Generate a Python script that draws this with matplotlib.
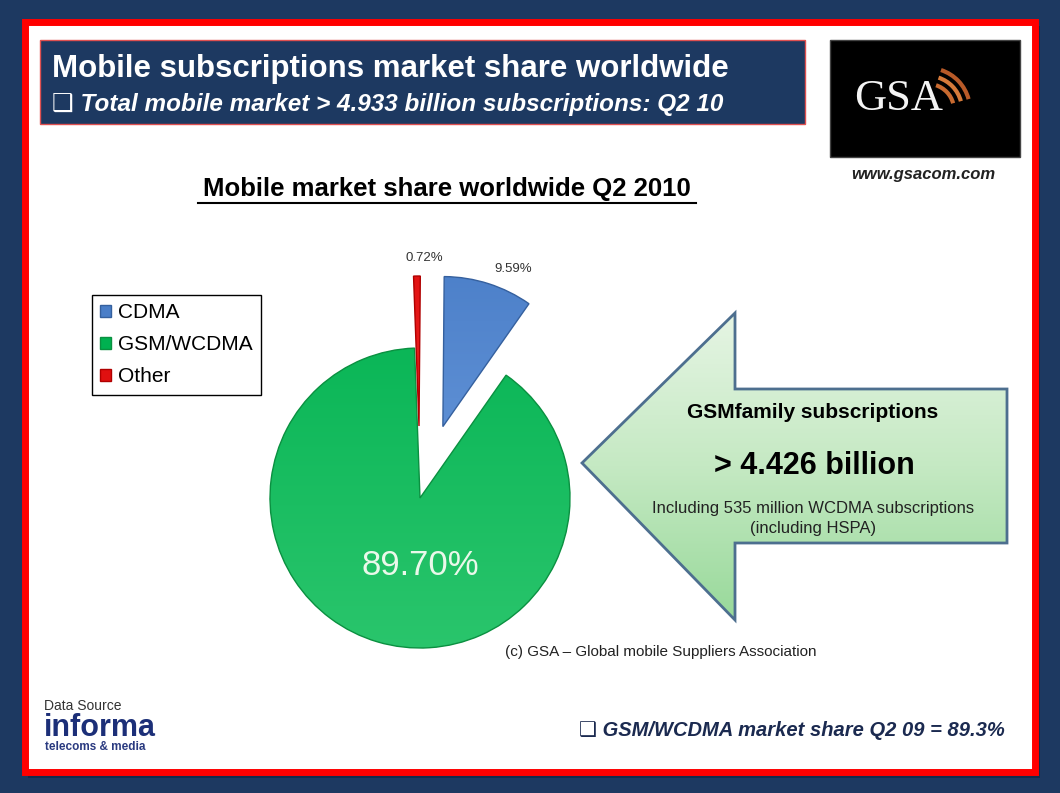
import numpy as np
import matplotlib
matplotlib.use("Agg")
import matplotlib.pyplot as plt
from matplotlib.patches import Rectangle, Polygon, Arc

plt.rcParams["font.family"] = ["Liberation Sans", "DejaVu Sans"]

# market share Q2 2010, percent
technologies = ["CDMA", "GSM/WCDMA", "Other"]
shares = [9.59, 89.70, 0.72]
share_labels = ["9.59%", "89.70%", "0.72%"]
explode = [0.5, 0.0, 0.48]

total_subs = "4.933"
gsm_family_subs = "4.426"
wcdma_subs = "535"
gsm_share_q2_09 = "89.3%"

NAVY = "#1d3961"
W, H = 1060, 793

fig = plt.figure(figsize=(W / 100, H / 100), dpi=100)
fig.patch.set_facecolor(NAVY)

bg = fig.add_axes([0, 0, 1, 1])
bg.set_xlim(0, W)
bg.set_ylim(H, 0)
bg.axis("off")

# slide frame: red border with white inside
bg.add_patch(Rectangle((28, 26), 1012, 752, facecolor="#0d1f38", edgecolor="none", alpha=0.5))
bg.add_patch(Rectangle((25, 22), 1010, 750, facecolor="white", edgecolor="#ff0000", lw=5))

# header box
bg.add_patch(Rectangle((40, 40), 765, 84, facecolor=NAVY, edgecolor="#e05050", lw=1))
bg.text(52, 69, "Mobile subscriptions market share worldwide", color="white",
        fontsize=22.5, fontweight="bold", va="center", ha="left")
bg.text(52, 104, "\u2751 Total mobile market > %s billion subscriptions: Q2 10" % total_subs,
        color="white", fontsize=17.5, fontweight="bold", fontstyle="italic",
        va="center", ha="left")

# GSA logo
bg.add_patch(Rectangle((830, 40), 190, 117, facecolor="black", edgecolor="#444444", lw=1))
bg.text(899, 99, "GSA", color="#f4f4f4", fontsize=32, family="Liberation Serif",
        ha="center", va="center")
for r, c in zip([26, 34, 42], ["#c86a30", "#d67a3a", "#b85a28"]):
    bg.add_patch(Arc((928, 110), 2 * r, 2 * r, theta1=288, theta2=345, color=c, lw=3))
bg.text(923, 174, "www.gsacom.com", fontsize=12, fontweight="bold", fontstyle="italic",
        color="#222222", ha="center", va="center")

# chart title, underlined
bg.text(447, 189, "Mobile market share worldwide Q2 2010", fontsize=18.5,
        fontweight="bold", color="black", ha="center", va="center")
bg.plot([198, 696], [203, 203], color="black", lw=1.5)

# arrow with vertical green gradient
arrow_pts = [(582, 463), (735, 313), (735, 389), (1007, 389), (1007, 543),
             (735, 543), (735, 620)]
arrow = Polygon(arrow_pts, closed=True, facecolor="none", edgecolor="#4d6f8f", lw=2, zorder=3)
bg.add_patch(arrow)
grad = np.linspace(0, 1, 256).reshape(-1, 1)
cmap = matplotlib.colors.LinearSegmentedColormap.from_list("g", ["#e6f5e4", "#c5e9c3", "#98d99a"])
im = bg.imshow(grad, cmap=cmap, extent=(580, 1010, 620, 312), aspect="auto", zorder=2)
im.set_clip_path(Polygon(arrow_pts, closed=True, transform=bg.transData))
bg.set_xlim(0, W)
bg.set_ylim(H, 0)

bg.text(813, 413, "GSMfamily subscriptions", fontsize=15, fontweight="bold",
        ha="center", va="center", zorder=4)
bg.text(814, 466, "> %s billion" % gsm_family_subs, fontsize=22, fontweight="bold",
        ha="center", va="center", zorder=4)
bg.text(813, 508, "Including %s million WCDMA subscriptions" % wcdma_subs, fontsize=12,
        color="#222222", ha="center", va="center", zorder=4)
bg.text(813, 529, "(including HSPA)", fontsize=12, color="#222222",
        ha="center", va="center", zorder=4)

bg.text(661, 652, "(c) GSA \u2013 Global mobile Suppliers Association", fontsize=11,
        color="#222222", ha="center", va="center")

# data source
bg.text(44, 706, "Data Source", fontsize=10, color="#333333", ha="left", va="center")
bg.text(44, 728, "informa", fontsize=22, fontweight="bold", color="#1c2f78",
        ha="left", va="center")
bg.text(45, 747, "telecoms & media", fontsize=8.5, fontweight="bold", color="#2a3a80",
        ha="left", va="center")

bg.text(1005, 731, "\u2751 GSM/WCDMA market share Q2 09 = %s" % gsm_share_q2_09,
        fontsize=14.5, fontweight="bold", fontstyle="italic", color="#1b2a50",
        ha="right", va="center")

# pie: centre at (420, 498) px, radius 150 px
ax = fig.add_axes([220 / W, 1 - 698 / H, 400 / W, 450 / H])
colors = ["#4a7ec8", "#00b150", "#e01010"]
edges = ["#35609e", "#0a9040", "#b00000"]
wedges, _ = ax.pie(shares, explode=explode, colors=colors, startangle=89.5,
                   counterclock=False, radius=1.0,
                   wedgeprops=dict(linewidth=1.0))
for w, ec in zip(wedges, edges):
    w.set_edgecolor(ec)

# soft highlight on the wedges
shade = np.linspace(1, 0, 256).reshape(-1, 1)
for w, lo, hi in zip(wedges, colors, ["#7aa8e6", "#30c870", "#ff4040"]):
    cm = matplotlib.colors.LinearSegmentedColormap.from_list("s", [lo, hi])
    img = ax.imshow(shade, cmap=cm, extent=(-1.6, 1.6, -1.4, 1.7), aspect="auto",
                    origin="lower", zorder=w.get_zorder() - 0.1)
    img.set_clip_path(w)
    w.set_facecolor("none")

ax.set_xlim(-1.3333, 1.3333)
ax.set_ylim(-1.3333, 1.6667)
ax.set_aspect("equal")
ax.axis("off")

ax.text(0.0, -0.45, share_labels[1], fontsize=25, color="#eaf8ea", ha="center", va="center")
ax.text(0.62, 1.53, share_labels[0], fontsize=9.5, color="#333333", ha="center", va="center")
ax.text(0.03, 1.6, share_labels[2], fontsize=9.5, color="#333333", ha="center", va="center")

handles = [Rectangle((0, 0), 1, 1, facecolor=c, edgecolor=e) for c, e in zip(colors, edges)]
leg = ax.legend(handles, technologies, loc="upper left",
                bbox_to_anchor=(92 / W, 1 - 295 / H), bbox_transform=fig.transFigure,
                fancybox=False, edgecolor="black", fontsize=15, handlelength=0.5,
                handleheight=0.5, handletextpad=0.35, labelspacing=0.62,
                borderpad=0.4, borderaxespad=0, framealpha=1)
leg.get_frame().set_linewidth(1.0)

fig.savefig("out.png", dpi=100, facecolor=NAVY)
